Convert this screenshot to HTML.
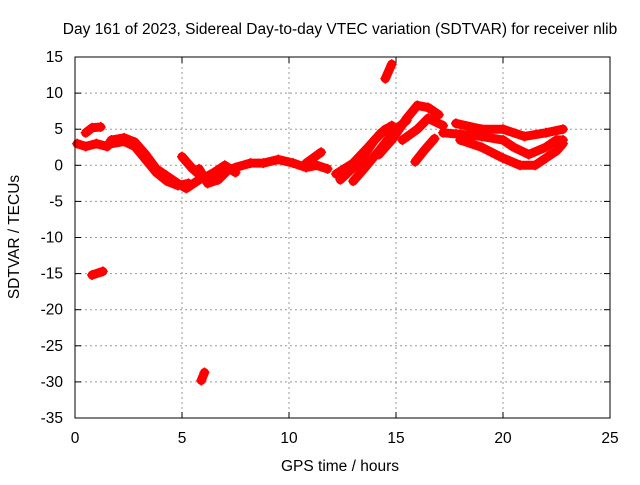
<!DOCTYPE html>
<html><head><meta charset="utf-8"><style>
body{margin:0;background:#fff;font-family:"Liberation Sans",sans-serif;}
svg text{font-family:"Liberation Sans",sans-serif;font-size:15.5px;fill:#000;}
</style></head><body>
<svg id="c" width="640" height="480">
<text x="340" y="34" text-anchor="middle">Day 161 of 2023, Sidereal Day-to-day VTEC variation (SDTVAR) for receiver nlib</text>
<text x="340" y="471" text-anchor="middle">GPS time / hours</text>
<text transform="translate(19,237) rotate(-90)" text-anchor="middle">SDTVAR / TECUs</text>
<g id="grid"></g><g id="marks"></g>
<rect x="75" y="57" width="535" height="361" fill="none" stroke="#000" stroke-width="1"/>
</svg>
<script>
const xTicks=[0,5,10,15,20,25];
const yTicks=[15,10,5,0,-5,-10,-15,-20,-25,-30,-35];
const track1=[[0.5,4.5],[0.8,5.2],[1.2,5.3]];
const track2=[[0.1,3],[0.5,2.6],[1,3],[1.5,2.6],[1.7,3.5],[2.3,3.8],[2.8,3.2],[3.3,1.5],[3.8,-0.5],[4.3,-1.5],[4.8,-2.5],[5.2,-3.2],[5.8,-2],[6.3,-1.5],[6.8,-1],[7.5,-0.3],[8.2,0.3],[8.8,0.3],[9.5,0.8],[10.2,0.3],[10.8,-0.3],[11.3,0],[11.8,-0.5]];
const track2b=[[1.7,3],[2.3,3.3],[2.8,2.6],[3.3,0.8],[3.8,-1],[4.3,-2.2],[4.8,-2.8],[5.3,-2.5]];
const track3=[[5,1.2],[5.5,-0.5],[6,-1.8],[6.5,-1],[7,0],[7.5,-1]];
const track3b=[[5.8,-0.5],[6.2,-2.5],[6.7,-2],[7.2,-0.5]];
const track4=[[10.8,0.3],[11.5,1.8]];
const track5=[[12.2,-1.2],[13,0.3],[13.7,2.5],[14.3,4.5],[14.8,5.5]];
const track6=[[12.4,-2],[13.3,0.5],[14,3.5],[14.5,5]];
const track7=[[13,-2.2],[13.5,-0.5],[14.2,2],[15,5],[15.5,6.2]];
const track8=[[14.2,1.5],[14.8,3.5],[15.5,6.5],[16,8.3],[16.5,8],[17,7]];
const track9=[[14.5,12],[14.8,14]];
const track10=[[15.3,3.5],[16,5],[16.5,6.5],[17.2,5.5]];
const track11=[[15.9,0.5],[16.3,2],[16.8,3.7]];
const track12=[[17.2,4.5],[18,4.3],[19,4],[20,3.5],[20.5,2.5],[21.2,1.5],[22,2.5],[22.5,3.5],[22.8,3.5]];
const track13=[[18,3.5],[19,2.5],[20,1],[20.8,0],[21.5,0],[22,1],[22.5,2],[22.8,3]];
const track14=[[17.8,5.8],[19,5],[20,5],[21,4],[22,4.5],[22.8,5]];
const outlierA=[[0.8,-15.2],[1.3,-14.7]];
const outlierB=[[5.9,-29.8],[6.05,-28.7]];
const tracks=[track1,track2,track2b,track3,track3b,track4,track5,track6,track7,track8,track9,track10,track11,track12,track13,track14,outlierA,outlierB];
const NS="http://www.w3.org/2000/svg";
function X(v){return 75+v*535/25;}
function Y(v){return 57+(15-v)*361/50;}
const grid=document.getElementById('grid'),marks=document.getElementById('marks');
function el(t,a,p){const e=document.createElementNS(NS,t);for(const k in a)e.setAttribute(k,a[k]);p.appendChild(e);return e;}
xTicks.forEach(t=>{
 if(t>0&&t<25){const g=el('line',{x1:X(t),x2:X(t),y1:57,y2:418,stroke:'#999','stroke-dasharray':'2,3'},grid);
 
 }
 el('line',{x1:X(t),x2:X(t),y1:418,y2:412,stroke:'#000'},grid);
 el('line',{x1:X(t),x2:X(t),y1:57,y2:63,stroke:'#000'},grid);
 const tx=el('text',{x:X(t),y:443,'text-anchor':'middle'},grid);tx.textContent=t;
 
 
});
yTicks.forEach(t=>{
 if(t<15&&t>-35){const g=el('line',{x1:75,x2:610,y1:Y(t),y2:Y(t),stroke:'#999','stroke-dasharray':'2,3'},grid);
 
 }
 el('line',{x1:75,x2:81,y1:Y(t),y2:Y(t),stroke:'#000'},grid);
 el('line',{x1:604,x2:610,y1:Y(t),y2:Y(t),stroke:'#000'},grid);
 const tx=el('text',{x:63,y:Y(t)+5,'text-anchor':'end'},grid);tx.textContent=t;
 
 
});
tracks.forEach(tr=>{
 const p=el('polyline',{points:tr.map(d=>X(d[0])+','+Y(d[1])).join(' '),fill:'none',stroke:'#ff0000','stroke-width':9,'stroke-linecap':'round','stroke-linejoin':'round'},marks);
 
 
 tr.forEach(d=>{
  const m=el('path',{d:`M${X(d[0])-5},${Y(d[1])}h10M${X(d[0])},${Y(d[1])-5}v10`,stroke:'#ff0000','stroke-width':1.5},marks);
  
  
 });
});
</script>
</body></html>
